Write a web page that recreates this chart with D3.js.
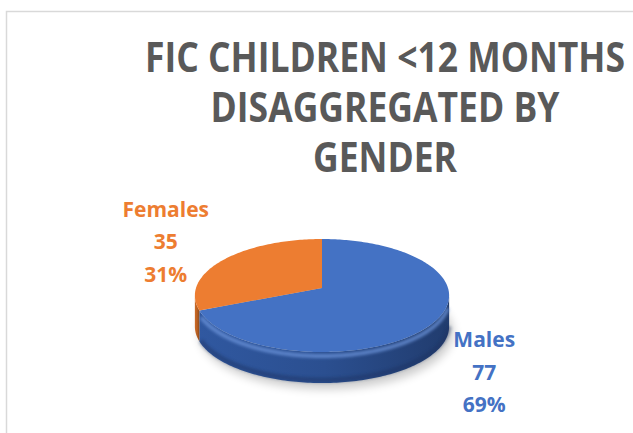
<!DOCTYPE html>
<html>
<head>
<meta charset="utf-8">
<script src="https://cdn.jsdelivr.net/npm/d3@7"></script>
<style>
  body { margin: 0; background: #fff; }
  svg { display: block; }
</style>
</head>
<body>
<div id="chart"></div>
<script>
// data
var categories = ["Males", "Females"];
var values = [77, 35];
var colors = ["#4472C4", "#ED7D31"];
var sideColors = ["#2b4f90", "#b85f22"];
var titleLines = ["FIC CHILDREN <12 MONTHS", "DISAGGREGATED BY", "GENDER"];

var svgWidth = 633;
var svgHeight = 433;

var svg = d3.select("#chart")
  .append("svg")
  .attr("width", svgWidth)
  .attr("height", svgHeight);

var defs = svg.append("defs");

// chart area border (runs off the right and bottom)
svg.append("rect")
  .attr("x", 6.5)
  .attr("y", 11.5)
  .attr("width", 700)
  .attr("height", 500)
  .attr("fill", "#fff")
  .attr("stroke", "#d9d9d9")
  .attr("stroke-width", 1.5);

// title (Calibri-like narrow look: squeeze Open Sans horizontally)
svg.append("g")
  .attr("transform", "translate(385,0) scale(0.845,1)")
  .append("text")
  .attr("text-anchor", "middle")
  .attr("font-family", "'Open Sans', sans-serif")
  .attr("font-weight", "bold")
  .attr("font-size", 42)
  .attr("fill", "#595959")
  .selectAll("tspan")
  .data(titleLines)
  .enter()
  .append("tspan")
  .attr("x", 0)
  .attr("y", (d, i) => 72 + i * 50)
  .text(d => d);

// pie geometry, with a bit of perspective (back of the disc is smaller)
var cx = 322, cy = 288, rx = 126, ry = 55.5, depth = 31, persp = 0.133;

var pie = d3.pie().sort(null).value(d => d);
var arcs = pie(values);
var total = d3.sum(values);
var pct = d3.format(".0%");

function proj(a, dy) {
  var s = 1 / (1 + persp * Math.cos(a));
  return [cx + rx * Math.sin(a) * s, cy + (dy || 0) - ry * Math.cos(a) * s];
}

function rim(a0, a1, dy) {
  var n = Math.max(2, Math.ceil(Math.abs(a1 - a0) / 0.02));
  return d3.range(n + 1).map(k => proj(a0 + (a1 - a0) * k / n, dy));
}

var line = d3.line();
var fullRim = rim(0, 2 * Math.PI, depth);

// soft shadow under the disc
var blur = defs.append("filter").attr("id", "shadow")
  .attr("x", "-20%").attr("y", "-40%").attr("width", "140%").attr("height", "180%");
blur.append("feGaussianBlur").attr("stdDeviation", 5);

svg.append("path")
  .attr("d", line(fullRim) + "Z")
  .attr("transform", "translate(4,6)")
  .attr("fill", "#000")
  .attr("opacity", 0.2)
  .attr("filter", "url(#shadow)");

// side gradients
categories.forEach(function(c, i) {
  var g = defs.append("linearGradient")
    .attr("id", "side" + i)
    .attr("x1", 0).attr("x2", 1).attr("y1", 0).attr("y2", 0);
  var base = d3.color(sideColors[i]);
  g.append("stop").attr("offset", 0).attr("stop-color", base.brighter(0.3));
  g.append("stop").attr("offset", 0.5).attr("stop-color", base);
  g.append("stop").attr("offset", 1).attr("stop-color", base.darker(0.75));
});

// front side of each slice (between the two silhouette points)
var sideA0 = Math.acos(-persp), sideA1 = 2 * Math.PI - sideA0;
arcs.forEach(function(d, i) {
  var a0 = Math.max(d.startAngle, sideA0);
  var a1 = Math.min(d.endAngle, sideA1);
  if (a1 <= a0) return;
  var pts = rim(a0, a1, 0).concat(rim(a1, a0, depth));
  svg.append("path")
    .attr("d", line(pts) + "Z")
    .attr("fill", "url(#side" + i + ")");
});

// darker band along the bottom edge of the side
svg.append("path")
  .attr("d", line(rim(sideA0 + 0.05, sideA1 - 0.3, depth - 3)))
  .attr("fill", "none")
  .attr("stroke", "#1a3060")
  .attr("stroke-width", 5)
  .attr("opacity", 0.45)
  .attr("filter", "url(#soft)");

// rim highlight (bevel) along the front edge
var hl = defs.append("filter").attr("id", "soft");
hl.append("feGaussianBlur").attr("stdDeviation", 1.5);
svg.append("path")
  .attr("d", line(rim(sideA0 + 0.15, arcs[0].endAngle - 0.05, 4)))
  .attr("fill", "none")
  .attr("stroke", "#6d95dc")
  .attr("stroke-width", 4)
  .attr("opacity", 0.75)
  .attr("filter", "url(#soft)");

// top faces
arcs.forEach(function(d, i) {
  var pts = [[cx, cy]].concat(rim(d.startAngle, d.endAngle, 0));
  svg.append("path")
    .attr("d", line(pts) + "Z")
    .attr("fill", colors[i]);
});

// data labels
arcs.forEach(function(d, i) {
  var mid = (d.startAngle + d.endAngle) / 2;
  var front = Math.cos(mid) < 0;
  var x = cx + 3 + rx * 1.52 * Math.sin(mid);
  var y = cy - Math.cos(mid) * (front ? 165 : 70);
  var lines = [categories[i], values[i], pct(values[i] / total)];
  svg.append("text")
    .attr("text-anchor", "middle")
    .attr("font-family", "'Open Sans', sans-serif")
    .attr("font-weight", "bold")
    .attr("font-size", 21)
    .attr("fill", colors[i])
    .selectAll("tspan")
    .data(lines)
    .enter()
    .append("tspan")
    .attr("x", x)
    .attr("y", (t, j) => y + (j - 1) * 32.5)
    .text(t => t);
});
</script>
</body>
</html>
